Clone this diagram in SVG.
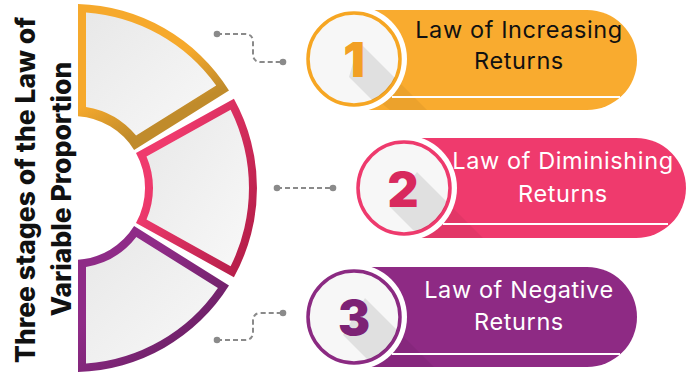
<svg xmlns="http://www.w3.org/2000/svg" width="688" height="374" viewBox="0 0 688 374">
<style>
.title{font-family:Inter,"Noto Sans","DejaVu Sans",sans-serif;font-weight:800;font-size:26.5px;fill:#111;text-anchor:middle}
.lbl{font-family:Inter,"Open Sans","DejaVu Sans",sans-serif;font-weight:400;font-size:23.5px;letter-spacing:0.6px;text-anchor:middle}
.num{font-family:Inter,"DejaVu Sans",sans-serif;font-weight:900;font-size:48px;text-anchor:middle}
.conn{fill:none;stroke:#8a8a8a;stroke-width:2;stroke-dasharray:5 3}
.dot{fill:#8a8a8a}
.halo{fill:#fff}
.inner{fill:url(#gGray)}
.stripe{stroke:#fff;stroke-width:2.2}
.shadow{fill:#000;opacity:.09}
.pshadow{fill:#000;opacity:.05}
</style>
<defs>
<linearGradient id="gGray" x1="0" y1="0" x2="1" y2="1"><stop offset="0" stop-color="#e8e8e8"/><stop offset="1" stop-color="#f8f8f8"/></linearGradient>
<linearGradient id="gTop" x1="0" y1="0" x2="0.55" y2="1"><stop offset="0.55" stop-color="#f6a92c"/><stop offset="0.85" stop-color="#c08b2b"/></linearGradient>
<linearGradient id="gMid" x1="0" y1="0" x2="1" y2="0.7"><stop offset="0.3" stop-color="#ef3a6d"/><stop offset="1" stop-color="#b81f4b"/></linearGradient>
<linearGradient id="gBot" x1="0" y1="0" x2="1" y2="1"><stop offset="0.35" stop-color="#8f2b87"/><stop offset="1" stop-color="#5c1a56"/></linearGradient>
<clipPath id="c1"><circle cx="354" cy="59" r="45"/></clipPath>
<clipPath id="c2"><circle cx="404" cy="188" r="45"/></clipPath>
<clipPath id="c3"><circle cx="354" cy="317" r="45"/></clipPath>
<clipPath id="p1"><path d="M354,10 H587 A50,50 0 0 1 587,110 H354 Z"/></clipPath>
<clipPath id="p2"><path d="M404,138 H636 A50,50 0 0 1 636,238 H404 Z"/></clipPath>
<clipPath id="p3"><path d="M354,267 H587 A50,50 0 0 1 587,367 H354 Z"/></clipPath>
</defs>
<rect width="688" height="374" fill="#fff"/>

<g id="title">
<text class="title" transform="translate(35,190) rotate(-90)">Three stages of the Law of</text>
<text class="title" transform="translate(71,189) rotate(-90)">Variable Proportion</text>
</g>

<g id="segment-1">
<path fill="url(#gTop)" d="M78,4.1 A184,184 0 0 1 229,90.5 L134.1,149.9 A72,72 0 0 0 78,116.2 Z"/>
<path class="inner" d="M86,12.5 A176,176 0 0 1 216.2,85.6 L136.1,135.6 A82,82 0 0 0 86,107 Z"/>
</g>
<g id="segment-2">
<path fill="url(#gMid)" d="M136,153.1 L233.9,98.8 A184,184 0 0 1 233.9,277.2 L136,222.9 A72,72 0 0 0 136,153.1 Z"/>
<path class="inner" d="M146.5,156.4 L230.6,109.7 A176,176 0 0 1 230.6,266.3 L146.5,219.6 A80,80 0 0 0 146.5,156.4 Z"/>
</g>
<g id="segment-3">
<path fill="url(#gBot)" d="M78,371.9 A184,184 0 0 0 229,285.5 L134.1,226.1 A72,72 0 0 1 78,259.8 Z"/>
<path class="inner" d="M86,363.5 A176,176 0 0 0 217.9,287.9 L136.3,237 A80,80 0 0 1 86,266.9 Z"/>
</g>

<g id="connectors">
<path class="conn" d="M217,34 H245 Q253,34 253,42 V54 Q253,62 261,62 H283"/>
<circle class="dot" cx="217" cy="34" r="3.3"/><circle class="dot" cx="283" cy="62" r="3.3"/>
<path class="conn" d="M277,188 H333"/>
<circle class="dot" cx="277" cy="188" r="3.3"/><circle class="dot" cx="333" cy="188" r="3.3"/>
<path class="conn" d="M217,340 H245 Q253,340 253,332 V321 Q253,313 261,313 H283"/>
<circle class="dot" cx="217" cy="340" r="3.3"/><circle class="dot" cx="283" cy="313" r="3.3"/>
</g>

<g id="stage-1">
<path fill="#f9ab2f" d="M354,10 H587 A50,50 0 0 1 587,110 H354 Z"/>
<polygon class="pshadow" clip-path="url(#p1)" points="359,42 489,172 479,182 349,77"/>
<line class="stripe" x1="392" y1="97" x2="620" y2="97"/>
<circle class="halo" cx="354" cy="59" r="53"/>
<circle cx="354" cy="59" r="46" fill="#f7f7f7" stroke="#f6a623" stroke-width="3.5"/>
<polygon class="shadow" clip-path="url(#c1)" points="359,42 429,112 419,147 349,77"/>
<text class="num" x="354" y="77" fill="#f2a024">1</text>
<text class="lbl" x="519" y="38" fill="#111">Law of Increasing</text>
<text class="lbl" x="519" y="69" fill="#111">Returns</text>
</g>

<g id="stage-2">
<path fill="#ef3a6d" d="M404,138 H636 A50,50 0 0 1 636,238 H404 Z"/>
<polygon class="pshadow" clip-path="url(#p2)" points="417,172 547,302 520,337 390,207"/>
<line class="stripe" x1="443" y1="224" x2="668" y2="224"/>
<circle class="halo" cx="404" cy="188" r="53"/>
<circle cx="404" cy="188" r="46" fill="#f7f7f7" stroke="#ee3a6d" stroke-width="3.5"/>
<polygon class="shadow" clip-path="url(#c2)" points="417,172 487,242 460,277 390,207"/>
<text class="num" x="403" y="207" fill="#d8295d">2</text>
<text class="lbl" x="563" y="169" fill="#fff">Law of Diminishing</text>
<text class="lbl" x="563" y="202" fill="#fff">Returns</text>
</g>

<g id="stage-3">
<path fill="#8e2a84" d="M354,267 H587 A50,50 0 0 1 587,367 H354 Z"/>
<polygon class="pshadow" clip-path="url(#p3)" points="365,298 495,428 473,465 343,335"/>
<line class="stripe" x1="392" y1="354" x2="620" y2="354"/>
<circle class="halo" cx="354" cy="317" r="53"/>
<circle cx="354" cy="317" r="46" fill="#f7f7f7" stroke="#8b2a82" stroke-width="3.5"/>
<polygon class="shadow" clip-path="url(#c3)" points="365,298 435,368 413,405 343,335"/>
<text class="num" x="354" y="335" fill="#7d2275">3</text>
<text class="lbl" x="519" y="298" fill="#fff">Law of Negative</text>
<text class="lbl" x="519" y="330" fill="#fff">Returns</text>
</g>
</svg>
